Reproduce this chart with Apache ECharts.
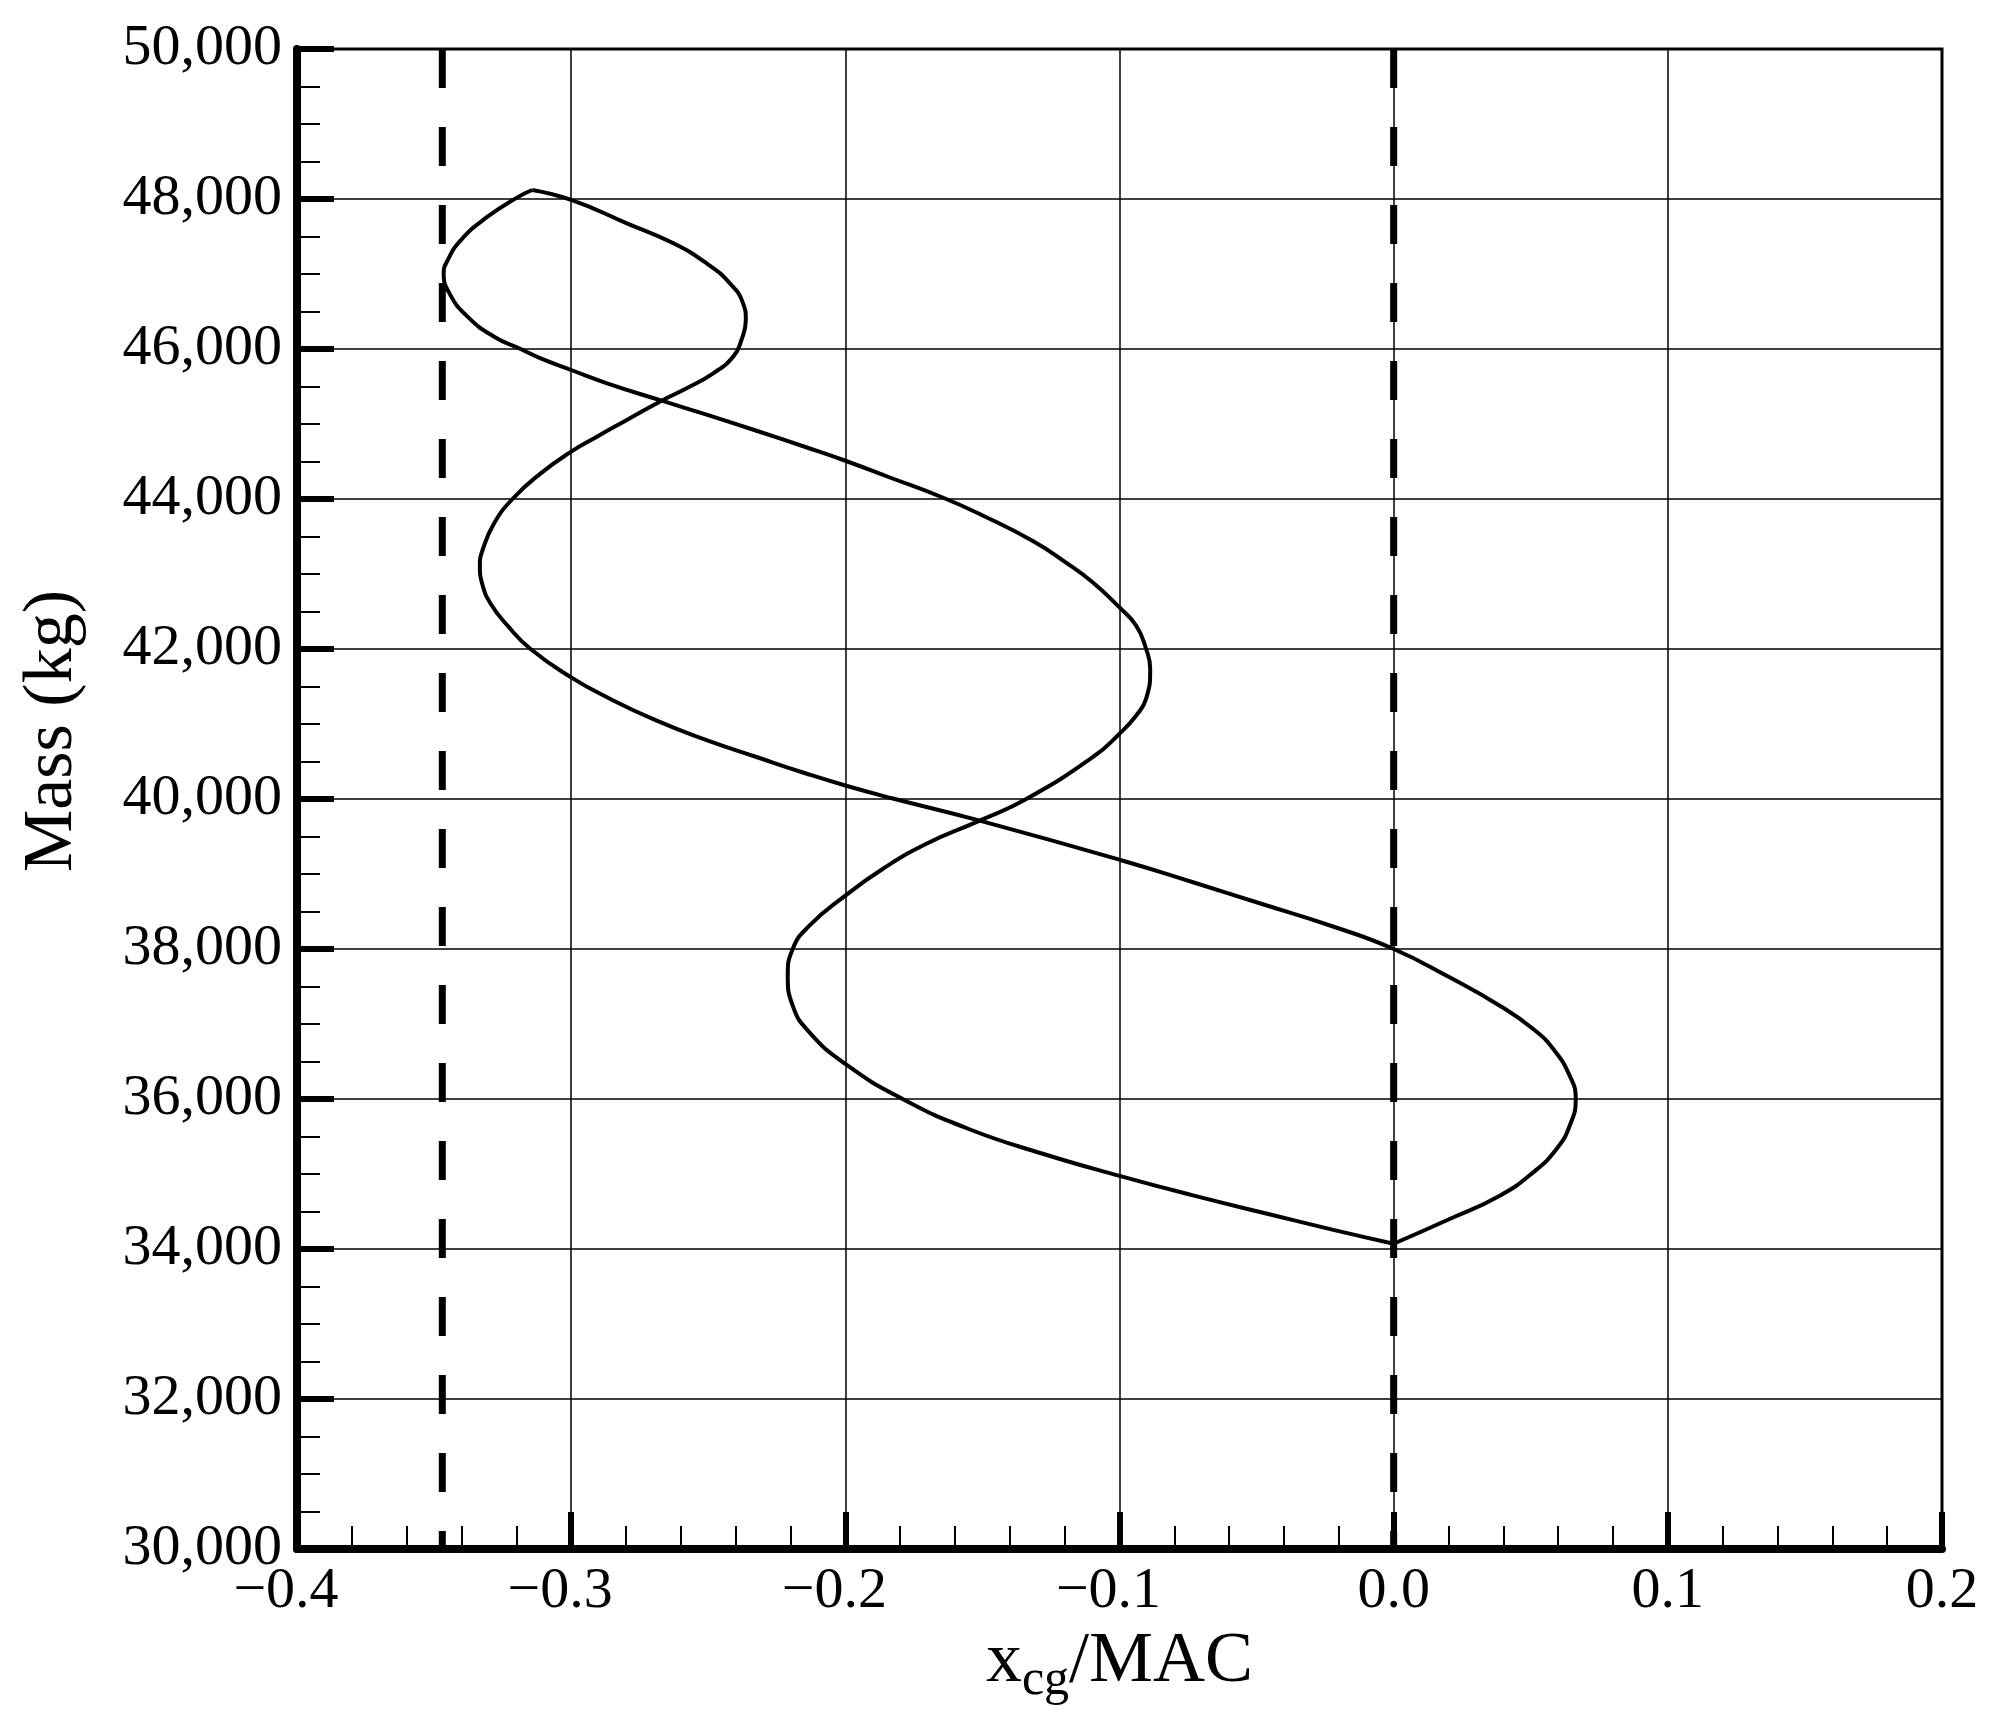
<!DOCTYPE html>
<html>
<head>
<meta charset="utf-8">
<script src="https://cdn.jsdelivr.net/npm/echarts@6/dist/echarts.min.js"></script>
<style>
  html, body { margin: 0; padding: 0; background: #fff; }
  #chart { width: 1994px; height: 1720px; }
</style>
</head>
<body>
<div id="chart"></div>
<script>
// Branch A: from the lower cusp, up through the right-hand bulges, to the top cusp
const branchA = [
  [0.0, 34070], [0.0204, 34400], [0.0387, 34711], [0.0509, 35022], [0.0594, 35333],
  [0.0642, 35644], [0.0664, 36000], [0.0642, 36311], [0.0582, 36667], [0.0509, 36933],
  [0.0387, 37244], [0.0204, 37622], [0.0, 38000], [-0.0221, 38300], [-0.0480, 38600],
  [-0.0732, 38890], [-0.1, 39190], [-0.151, 39711], [-0.183, 40010], [-0.2, 40180],
  [-0.2143, 40340], [-0.2324, 40560], [-0.2506, 40785], [-0.2688, 41044], [-0.2869, 41356],
  [-0.3, 41622], [-0.3148, 42000], [-0.3232, 42311], [-0.3293, 42600], [-0.3323, 42850],
  [-0.3333, 43120], [-0.3323, 43320], [-0.3281, 43676], [-0.3214, 44000], [-0.3111, 44342],
  [-0.3, 44631], [-0.2906, 44831], [-0.2797, 45053], [-0.267, 45311], [-0.2579, 45476],
  [-0.2482, 45676], [-0.2409, 45898], [-0.2379, 46120], [-0.2363, 46387], [-0.2373, 46609],
  [-0.2421, 46876], [-0.2506, 47142], [-0.2627, 47409], [-0.2797, 47676], [-0.3, 47987],
  [-0.3142, 48120]
];
// Branch B: from the top cusp, down through the left-hand bulges, back to the lower cusp
const branchB = [
  [-0.3142, 48120], [-0.3196, 48022], [-0.3305, 47764], [-0.3402, 47453], [-0.345, 47187],
  [-0.3465, 47009], [-0.3444, 46742], [-0.3378, 46431], [-0.3281, 46164], [-0.3184, 46000],
  [-0.3111, 45876], [-0.3, 45720], [-0.2869, 45542], [-0.267, 45311], [-0.2506, 45125],
  [-0.2324, 44910], [-0.2143, 44690], [-0.2, 44510], [-0.184, 44290], [-0.1645, 44020],
  [-0.1499, 43780], [-0.1316, 43440], [-0.1195, 43152], [-0.1097, 42886], [-0.1, 42554],
  [-0.0939, 42310], [-0.0903, 42000], [-0.0888, 41734], [-0.0903, 41336], [-0.0939, 41114],
  [-0.1, 40870], [-0.1097, 40560], [-0.134, 40000], [-0.151, 39711], [-0.1706, 39400],
  [-0.1864, 39067], [-0.2, 38711], [-0.2131, 38311], [-0.2192, 38000], [-0.221, 37644],
  [-0.2192, 37244], [-0.2131, 36889], [-0.2, 36467], [-0.1791, 36000], [-0.155, 35600],
  [-0.128, 35270], [-0.1, 34975], [-0.0732, 34715], [-0.045, 34460], [-0.022, 34255],
  [0.0, 34070]
];
// Vertical dashed limit lines (x/MAC values)
const limitX = [-0.347, 0.0];
const massRange = [30000, 50000];
const xRange = [-0.4, 0.2];

const FONT = 'Liberation Serif';
const chart = echarts.init(document.getElementById('chart'), null, { renderer: 'canvas' });

function fmtX(v) {
  const s = (Math.round(v * 10) / 10).toFixed(1);
  return s === '-0.0' ? '0.0' : s.replace('-', '\u2212');
}
function fmtY(v) {
  return String(Math.round(v)).replace(/\B(?=(\d{3})+(?!\d))/g, ',');
}

const limitSeries = limitX.map(x => ({
  type: 'line',
  data: [[x, massRange[1]], [x, massRange[0]]],
  showSymbol: false,
  silent: true,
  z: 3,
  lineStyle: { color: '#000', width: 7, type: [39, 39], cap: 'butt' }
}));

const option = {
  animation: false,
  backgroundColor: '#fff',
  grid: {
    left: 297, right: 52, top: 49, bottom: 171,
    outerBoundsMode: 'none',
    containLabel: false,
    show: true, borderColor: '#000', borderWidth: 3, backgroundColor: 'transparent'
  },
  xAxis: {
    type: 'value',
    min: xRange[0], max: xRange[1], interval: 0.1,
    name: '{m|x}{s|cg}{m|/MAC}',
    nameLocation: 'middle',
    nameGap: 70,
    nameTextStyle: {
      color: '#000',
      rich: {
        m: { fontFamily: FONT, fontSize: 72, color: '#000', lineHeight: 72, verticalAlign: 'top' },
        s: { fontFamily: FONT, fontSize: 50, color: '#000', lineHeight: 80, verticalAlign: 'bottom' }
      }
    },
    axisLine: { show: true, onZero: false, lineStyle: { color: '#000', width: 8 } },
    axisTick: { show: true, inside: true, length: 37, lineStyle: { color: '#000', width: 6 } },
    minorTick: { show: true, splitNumber: 5, length: 23, lineStyle: { color: '#000', width: 2 } },
    splitLine: { show: true, lineStyle: { color: '#000', width: 1.5 } },
    axisLabel: {
      margin: 14,
      formatter: v => v < -1e-9 ? '{n|' + fmtX(v) + '}' : '{p|' + fmtX(v) + '}',
      rich: {
        n: { fontFamily: FONT, fontSize: 58, color: '#000', padding: [0, 22, 0, 0] },
        p: { fontFamily: FONT, fontSize: 58, color: '#000' }
      }
    }
  },
  yAxis: {
    type: 'value',
    min: massRange[0], max: massRange[1], interval: 2000,
    name: 'Mass (kg)',
    nameLocation: 'middle',
    nameGap: 209,
    nameTextStyle: { fontFamily: FONT, fontSize: 70, color: '#000', padding: [0, 0, 0, 136] },
    axisLine: { show: true, onZero: false, lineStyle: { color: '#000', width: 8 } },
    axisTick: { show: true, inside: true, length: 37, lineStyle: { color: '#000', width: 6 } },
    minorTick: { show: true, splitNumber: 4, length: 23, lineStyle: { color: '#000', width: 2 } },
    splitLine: { show: true, lineStyle: { color: '#000', width: 1.5 } },
    axisLabel: { margin: 15, fontFamily: FONT, fontSize: 58, color: '#000', formatter: fmtY }
  },
  series: [
    ...limitSeries,
    {
      type: 'line', data: branchA, showSymbol: false, smooth: 0.5, z: 4,
      lineStyle: { color: '#000', width: 4 }
    },
    {
      type: 'line', data: branchB, showSymbol: false, smooth: 0.5, z: 4,
      lineStyle: { color: '#000', width: 4 }
    }
  ]
};
chart.setOption(option);
</script>
</body>
</html>
